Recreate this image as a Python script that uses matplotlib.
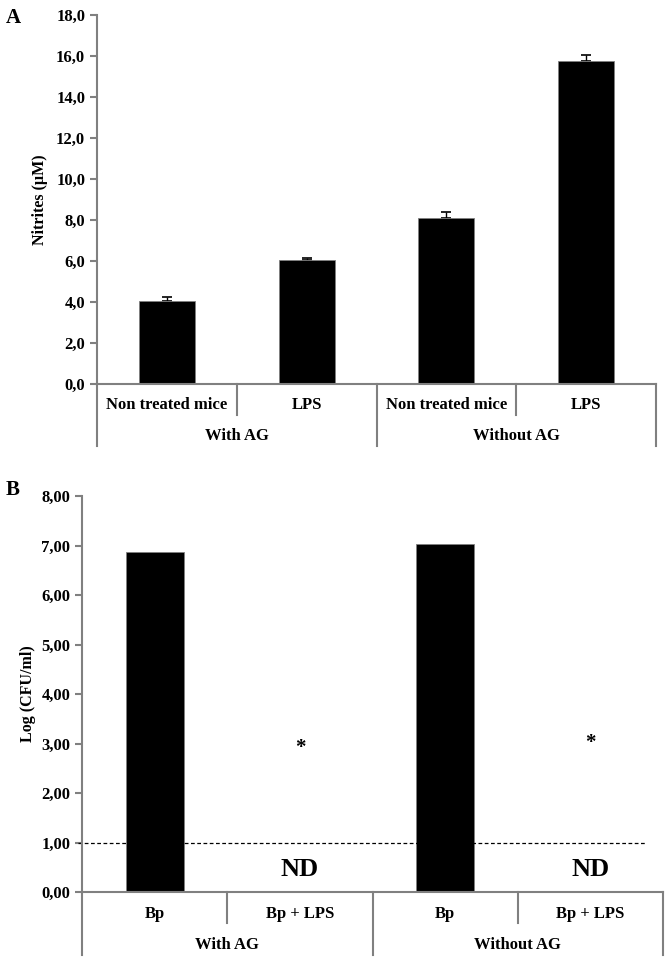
import matplotlib
matplotlib.use('Agg')
from matplotlib import pyplot as plt
from matplotlib.ticker import FuncFormatter

# Panel A data: nitrites (uM)
a_labels = ['Non treated mice', 'LPS', 'Non treated mice', 'LPS']
a_groups = ['With AG', 'Without AG']
a_values = [4.05, 6.05, 8.12, 15.76]
a_errors = [0.17, 0.1, 0.26, 0.29]

# Panel B data: Log (CFU/ml)
b_labels = ['Bp', 'Bp + LPS', 'Bp', 'Bp + LPS']
b_groups = ['With AG', 'Without AG']
b_values = [6.87, 0.0, 7.04, 0.0]
b_star_y = [None, 2.9, None, 3.0]
b_nd = [False, True, False, True]
b_limit = 1.0

GREY = '#808080'
plt.rcParams['font.family'] = ['Liberation Serif', 'DejaVu Serif']
plt.rcParams['font.weight'] = 'bold'

fig = plt.figure(figsize=(6.66, 9.61), dpi=100)
W, H = 666, 961


def make_axes(left, right, top, bottom):
    return fig.add_axes([left / W, 1 - bottom / H, (right - left) / W, (bottom - top) / H])


def style_axes(ax, height_px, labels, groups, inner_px, outer_px, lab_px, grp_px):
    for side in ['top', 'right']:
        ax.spines[side].set_visible(False)
    for side in ['left', 'bottom']:
        ax.spines[side].set_color(GREY)
        ax.spines[side].set_linewidth(1.5)
    ax.tick_params(axis='y', colors=GREY, width=1.5, length=5, labelcolor='black',
                   labelsize=12)
    ax.tick_params(axis='x', bottom=False, labelbottom=False)
    ax.set_xlim(-0.5, len(labels) - 0.5)
    tr = ax.get_xaxis_transform()
    # category dividers under the axis
    for i in range(len(labels) + 1):
        x = i - 0.5
        depth = outer_px if i % 2 == 0 else inner_px
        ax.plot([x, x], [0, -depth / height_px], transform=tr, color=GREY,
                lw=1.5, clip_on=False)
    for i, lab in enumerate(labels):
        ax.text(i, -lab_px / height_px, lab, transform=tr, ha='center', va='center',
                fontsize=12, fontweight='bold')
    for j, g in enumerate(groups):
        ax.text(2 * j + 0.5, -grp_px / height_px, g, transform=tr, ha='center',
                va='center', fontsize=12, fontweight='bold')


# Panel A
axA = make_axes(97, 656, 15, 384)
xs = range(len(a_values))
axA.errorbar(xs, a_values, yerr=[[0] * len(a_errors), a_errors], fmt='none',
             ecolor='black', elinewidth=1, capsize=3.5, capthick=1.2, zorder=1)
axA.bar(xs, a_values, width=0.4, color='black', edgecolor=GREY, linewidth=0.6,
        zorder=2)
axA.set_ylim(0, 18)
axA.set_yticks(range(0, 19, 2))
axA.yaxis.set_major_formatter(FuncFormatter(lambda v, p: f'{v:.1f}'.replace('.', ',')))
axA.set_ylabel('Nitrites (µM)', fontsize=11.5, fontweight='bold', labelpad=6)
style_axes(axA, 369, a_labels, a_groups, 31, 62, 21, 52)
fig.text(6 / W, 1 - 18 / H, 'A', fontsize=15, fontweight='bold', va='center')

# Panel B
axB = make_axes(82, 663, 496, 892)
xs = range(len(b_values))
axB.bar(xs, b_values, width=0.4, color='black', edgecolor=GREY, linewidth=0.6)
axB.set_ylim(0, 8)
axB.set_yticks(range(0, 9))
axB.yaxis.set_major_formatter(FuncFormatter(lambda v, p: f'{v:.2f}'.replace('.', ',')))
axB.set_ylabel('Log (CFU/ml)', fontsize=11.5, fontweight='bold', labelpad=4)
axB.plot([-0.53, 3.38], [b_limit, b_limit], color='black', lw=0.9,
         linestyle=(0, (3, 2)), clip_on=False)
for i in xs:
    if b_star_y[i] is not None:
        axB.text(i, b_star_y[i], '*', ha='center', va='center', fontsize=15,
                 fontweight='bold')
    if b_nd[i]:
        axB.text(i, 0.46, 'ND', ha='center', va='center', fontsize=19,
                 fontweight='bold')
style_axes(axB, 396, b_labels, b_groups, 31, 63, 22, 53)
fig.text(6 / W, 1 - 490 / H, 'B', fontsize=15, fontweight='bold', va='center')

fig.savefig('out.png', dpi=100)
